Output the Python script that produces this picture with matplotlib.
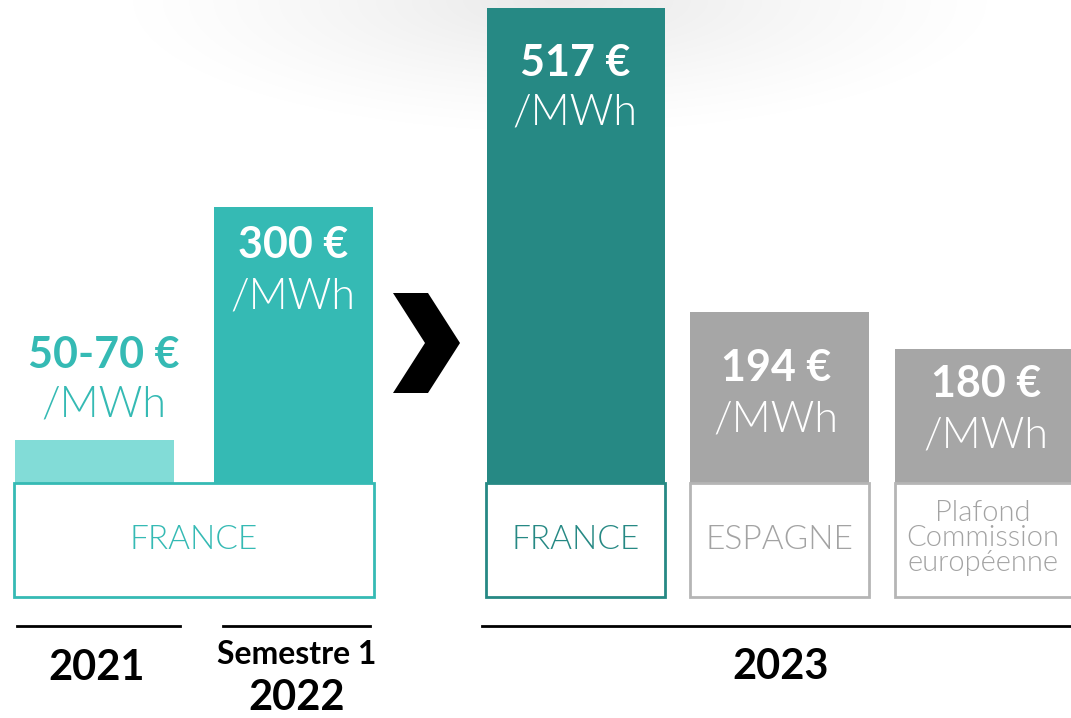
import numpy as np
import matplotlib
matplotlib.use("Agg")
import matplotlib.pyplot as plt
from matplotlib.patches import Rectangle, Polygon

plt.rcParams["font.family"] = ["Lato", "DejaVu Sans"]

# data
groups = ["2021", "Semestre 1\n2022", "2023", "2023", "2023"]
price_main = ["50-70 €", "300 €", "517 €", "194 €", "180 €"]
price_unit = ["/MWh"] * 5
# drawn bar heights in €/MWh scale (grey bars are not drawn to scale in the original)
bar_heights = [47, 300, 517, 186, 146]
box_labels = ["FRANCE", "ESPAGNE", "Plafond\nCommission\neuropéenne"]

# colours
c_light = "#82dcd7"
c_teal = "#35bab4"
c_dark = "#268984"
c_grey = "#a6a6a6"
c_grey_txt = "#a3a3a3"
bar_colors = [c_light, c_teal, c_dark, c_grey, c_grey]

# layout (pixels)
W, H = 1071, 718
base_y = 483
bar_left = [15, 214, 487, 690, 895]
bar_width = [159, 159, 178, 179, 180]
thin = 300

fig = plt.figure(figsize=(W / 100, H / 100), dpi=100)


def pixel_axes(z):
    a = fig.add_axes([0, 0, 1, 1])
    a.set_xlim(0, W)
    a.set_ylim(H, 0)
    a.axis("off")
    a.patch.set_alpha(0)
    a.set_zorder(z)
    return a


# soft grey glow at the top (bottom layer)
back = pixel_axes(0)
xx, yy = np.meshgrid(np.linspace(0, W, 400), np.linspace(0, 160, 100))
r = np.sqrt(((xx - 560) / 470) ** 2 + (yy / 145) ** 2)
glow = np.clip(1 - r, 0, 1) ** 1.3 * 0.09
img = np.zeros((100, 400, 4))
img[..., 3] = glow
back.imshow(img, extent=(0, W, 160, 0), aspect="auto", interpolation="bilinear")
back.set_xlim(0, W)
back.set_ylim(H, 0)

# bars on a value axis
ax = fig.add_axes([0, (H - base_y) / H, 1, (base_y - 8) / H])
ax.set_zorder(1)
ax.set_xlim(0, W)
ax.set_ylim(0, max(bar_heights))
ax.axis("off")
ax.patch.set_alpha(0)
ax.bar(bar_left, bar_heights, width=bar_width, align="edge", color=bar_colors)

# overlay: boxes, labels, chevron, years
top = pixel_axes(2)

boxes = [
    (14, 360, c_teal, box_labels[0], c_teal),
    (486, 179, c_dark, box_labels[0], c_dark),
    (690, 179, "#b5b5b5", box_labels[1], c_grey_txt),
    (895, 190, "#b5b5b5", box_labels[2], c_grey_txt),
]
for x0, w, ec, lab, tc in boxes:
    top.add_patch(Rectangle((x0, base_y), w, 114, facecolor="white", edgecolor=ec, lw=2))
    if "\n" in lab:
        top.text(x0 + 88, 538, lab, ha="center", va="center", fontsize=21, color=tc,
                 linespacing=0.97, fontweight=thin)
    else:
        top.text(x0 + w / 2, 540, lab, ha="center", va="center", fontsize=24, color=tc,
                 fontweight=thin)

# value labels
label_pos = [(104, 355, 405), (293, 245, 297), (575, 63, 113), (776, 368, 420), (986, 384, 436)]
label_col = [c_teal, "white", "white", "white", "white"]
for (x, y1, y2), m, u, col in zip(label_pos, price_main, price_unit, label_col):
    top.text(x, y1, m, ha="center", va="center", fontsize=31, fontweight="bold", color=col)
    top.text(x, y2, u, ha="center", va="center", fontsize=31, color=col, fontweight=thin)

# chevron
top.add_patch(Polygon([(393, 293), (428, 293), (460, 343), (428, 393), (393, 393), (425, 343)],
                      closed=True, facecolor="black", edgecolor="none"))

# year rules and labels
for x0, x1 in [(17, 180), (223, 370), (482, 1071)]:
    top.plot([x0, x1], [626, 626], color="black", lw=2)
top.text(97, 668, groups[0], ha="center", va="center", fontsize=30, fontweight="bold")
sem, yr = groups[1].split("\n")
top.text(297, 655, sem, ha="center", va="center", fontsize=23, fontweight="bold")
top.text(297, 698, yr, ha="center", va="center", fontsize=30, fontweight="bold")
top.text(781, 667, groups[2], ha="center", va="center", fontsize=30, fontweight="bold")

fig.savefig("out.png", dpi=100)
